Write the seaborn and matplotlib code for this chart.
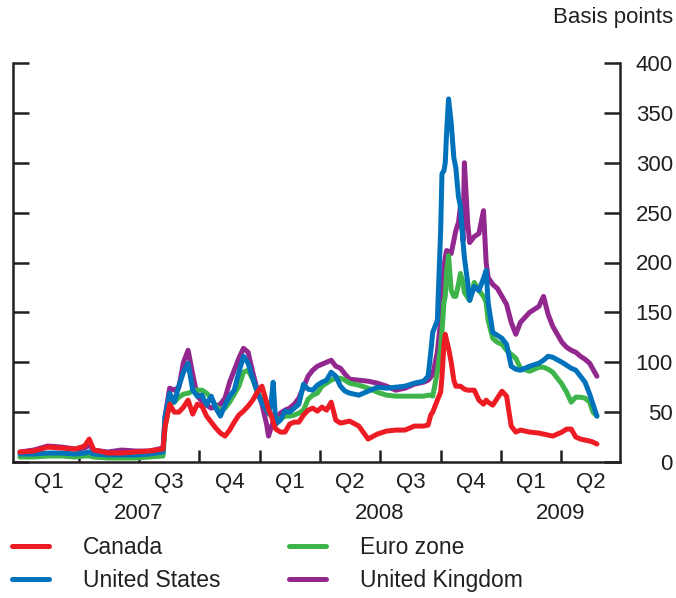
import matplotlib
matplotlib.use("Agg")
import matplotlib.pyplot as plt
import matplotlib.dates as mdates
from matplotlib.lines import Line2D
import seaborn as sns
import pandas as pd

# ---------------- data (basis points) ----------------
dates = [
    "2007-01-02", "2007-01-23", "2007-02-13", "2007-03-06", "2007-03-27", "2007-04-10",
    "2007-04-17", "2007-04-24", "2007-05-15", "2007-06-05", "2007-06-26", "2007-07-17",
    "2007-08-07", "2007-08-10", "2007-08-17", "2007-08-24", "2007-08-31", "2007-09-07",
    "2007-09-14", "2007-09-21", "2007-09-28", "2007-10-05", "2007-10-12", "2007-10-19",
    "2007-10-26", "2007-11-02", "2007-11-09", "2007-11-16", "2007-11-23", "2007-11-30",
    "2007-12-07", "2007-12-14", "2007-12-21", "2007-12-28", "2008-01-04", "2008-01-11",
    "2008-01-14", "2008-01-18", "2008-01-21", "2008-01-25", "2008-02-01", "2008-02-08",
    "2008-02-15", "2008-02-22", "2008-02-29", "2008-03-07", "2008-03-14", "2008-03-21",
    "2008-03-28", "2008-04-04", "2008-04-11", "2008-04-18", "2008-04-25", "2008-05-02",
    "2008-05-09", "2008-05-16", "2008-05-30", "2008-06-13", "2008-06-27", "2008-07-11",
    "2008-07-25", "2008-08-08", "2008-08-22", "2008-09-05", "2008-09-12", "2008-09-16",
    "2008-09-19", "2008-09-26", "2008-10-01", "2008-10-03", "2008-10-06", "2008-10-08",
    "2008-10-10", "2008-10-13", "2008-10-17", "2008-10-21", "2008-10-24", "2008-10-28",
    "2008-10-31", "2008-11-04", "2008-11-06", "2008-11-11", "2008-11-14", "2008-11-21",
    "2008-11-28", "2008-12-05", "2008-12-09", "2008-12-12", "2008-12-19", "2008-12-26",
    "2009-01-02", "2009-01-09", "2009-01-16", "2009-01-23", "2009-01-30", "2009-02-13",
    "2009-02-27", "2009-03-06", "2009-03-13", "2009-03-20", "2009-04-03", "2009-04-10",
    "2009-04-17", "2009-04-24", "2009-05-01", "2009-05-08", "2009-05-15", "2009-05-20",
    "2009-05-26",
]

canada = [
    10, 11, 15, 14, 13, 16, 23, 12, 9, 9, 10, 11,
    13, 35, 58, 50, 50, 55, 62, 48, 58, 56, 46, 40,
    34, 29, 26, 32, 40, 47, 51, 56, 62, 70, 76, 60,
    52, 47, 40, 33, 30, 30, 38, 40, 40, 47, 52, 54,
    51, 55, 52, 60, 42, 39, 40, 41, 36, 23, 28, 31,
    32, 32, 36, 36, 37, 47, 50, 62, 70, 85, 118, 128,
    122, 114, 100, 82, 76, 76, 76, 74, 73, 72, 72, 72,
    62, 58, 62, 60, 57, 64, 71, 66, 36, 30, 32, 30,
    29, 28, 27, 26, 30, 33, 33, 25, 23, 22, 21, 20,
    18,
]

united_states = [
    8, 8, 9, 9, 8, 9, 10, 8, 7, 7, 7, 8,
    10, 45, 69, 60, 76, 90, 99, 72, 66, 67, 57, 66,
    54, 46, 57, 66, 72, 90, 106, 99, 84, 70, 59, 52,
    49, 60, 80, 38, 42, 51, 50, 54, 58, 78, 73, 72,
    77, 80, 82, 90, 86, 76, 71, 69, 67, 71, 75, 74,
    75, 76, 79, 81, 86, 110, 130, 142, 232, 289, 292, 300,
    330, 364, 340, 305, 295, 266, 256, 220, 205, 180, 162, 176,
    172, 184, 192, 160, 130, 127, 124, 118, 96, 93, 92, 96,
    99, 102, 106, 105, 100, 97, 94, 92, 86, 80, 68, 58,
    46,
]

euro_zone = [
    5, 5, 6, 6, 5, 6, 6, 5, 4, 4, 4, 5,
    6, 35, 59, 60, 65, 68, 69, 71, 72, 72, 69, 64,
    56, 52, 54, 60, 68, 76, 90, 92, 83, 70, 62, 52,
    49, 46, 44, 43, 43, 46, 46, 47, 49, 52, 63, 67,
    69, 76, 79, 82, 84, 84, 82, 79, 77, 74, 70, 67,
    66, 66, 66, 66, 67, 67, 66, 90, 116, 130, 160, 166,
    190, 207, 172, 166, 166, 178, 189, 180, 170, 165, 162, 180,
    172, 166, 160, 142, 124, 120, 118, 112, 108, 104, 94, 91,
    95, 95, 93, 90, 78, 70, 60, 65, 65, 64, 60, 50,
    46,
]

united_kingdom = [
    10, 12, 16, 15, 13, 14, 17, 12, 10, 12, 11, 11,
    14, 45, 74, 72, 75, 100, 112, 88, 66, 61, 57, 54,
    56, 58, 64, 80, 92, 104, 114, 110, 90, 72, 58, 38,
    26, 35, 40, 42, 49, 52, 54, 58, 64, 75, 86, 92,
    96, 98, 100, 102, 96, 94, 88, 83, 82, 81, 79, 76,
    72, 74, 78, 80, 82, 85, 88, 110, 142, 165, 195, 205,
    212, 211, 209, 222, 232, 240, 256, 222, 300, 240, 220, 226,
    229, 252, 200, 185, 178, 174, 166, 158, 140, 128, 140, 150,
    156, 166, 148, 136, 120, 115, 112, 110, 106, 103, 99, 93,
    86,
]

series_names = ["Canada", "United States", "Euro zone", "United Kingdom"]
quarter_labels = ["Q1", "Q2", "Q3", "Q4", "Q1", "Q2", "Q3", "Q4", "Q1", "Q2"]
year_labels = ["2007", "2008", "2009"]
year_label_dates = ["2007-07-01", "2008-07-01", "2009-04-01"]
y_ticks = [0, 50, 100, 150, 200, 250, 300, 350, 400]

palette = {
    "Canada": "#ED1C24",
    "United States": "#0072BC",
    "Euro zone": "#3DB54A",
    "United Kingdom": "#92278F",
}

# ---------------- style ----------------
sns.set_style("white")
plt.rcParams["font.family"] = ["Liberation Sans", "DejaVu Sans"]
INK = "#231F20"
FS = 16

df = pd.DataFrame({
    "date": pd.to_datetime(dates),
    "Canada": canada,
    "United States": united_states,
    "Euro zone": euro_zone,
    "United Kingdom": united_kingdom,
}).melt(id_vars="date", var_name="series", value_name="bp")

W, H = 676, 598
fig = plt.figure(figsize=(W / 100, H / 100), dpi=100)
ax = fig.add_axes([12.7 / W, 1 - 462 / H, (620 - 12.7) / W, (462 - 63) / H])

draw_order = ["United Kingdom", "Euro zone", "United States", "Canada"]
sns.lineplot(data=df, x="date", y="bp", hue="series", hue_order=draw_order,
             palette=palette, linewidth=3.6, estimator=None, legend=False, ax=ax)
for ln in ax.get_lines():
    ln.set_solid_joinstyle("round")
    ln.set_solid_capstyle("round")

# axes limits & spines
ax.set_ylim(0, 400)
ax.set_xlim(mdates.date2num(pd.Timestamp("2006-12-22")),
            mdates.date2num(pd.Timestamp("2009-06-30")))
ax.set_xlabel("")
ax.set_ylabel("")
ax.spines["top"].set_visible(False)
for s in ("left", "right", "bottom"):
    ax.spines[s].set_linewidth(1.8)
    ax.spines[s].set_color(INK)

# y ticks: both sides inward, labels right
ax.set_yticks(y_ticks)
ax.set_yticklabels([str(v) for v in y_ticks])
ax.tick_params(axis="y", which="major", direction="in", length=11.5, width=1.8,
               left=True, right=True, labelleft=False, labelright=True,
               pad=38, labelsize=FS, colors=INK)
for lbl in ax.get_yticklabels():
    lbl.set_horizontalalignment("right")

# x ticks: quarter boundaries, labels at mid-quarter
qs = pd.date_range("2007-01-01", "2009-07-01", freq="QS")
mids = qs[:-1] + (qs[1:] - qs[:-1]) / 2
ax.set_xticks(mdates.date2num(qs[1:-1]))
ax.set_xticklabels([])
ax.set_xticks(mdates.date2num(mids), minor=True)
ax.set_xticklabels(quarter_labels, minor=True)
ax.tick_params(axis="x", which="major", direction="in", length=8.4, width=1.8,
               bottom=True, top=False, colors=INK)
ax.tick_params(axis="x", which="minor", length=0, pad=7, labelsize=FS,
               bottom=True, top=False, colors=INK)

for d, lab in zip(year_label_dates, year_labels):
    ax.text(mdates.date2num(pd.Timestamp(d)), -0.128, lab,
            transform=ax.get_xaxis_transform(), ha="center", va="center",
            fontsize=FS, color=INK)

fig.text(673 / W, 1 - 23 / H, "Basis points", ha="right", va="baseline",
         fontsize=FS, color=INK)

handles = [Line2D([], [], color=palette[n], linewidth=3.6, solid_capstyle="round")
           for n in series_names]
fig.legend(handles, series_names, ncol=2, loc="upper left",
           bbox_to_anchor=(12 / W, 1 - 536 / H), frameon=False, fontsize=16.5,
           handlelength=1.62, handletextpad=1.48, columnspacing=2.97,
           labelspacing=0.44, borderpad=0, borderaxespad=0, labelcolor=INK)

fig.savefig("out.png", dpi=100)
